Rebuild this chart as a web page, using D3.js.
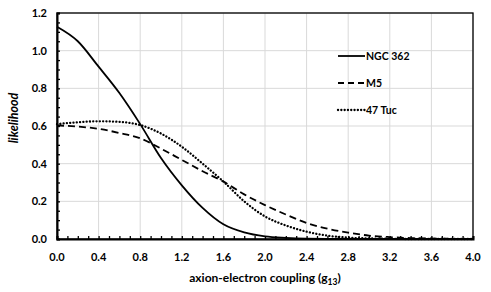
<!DOCTYPE html>
<html>
<head>
<meta charset="utf-8">
<script src="https://cdn.jsdelivr.net/npm/d3@7"></script>
<style>
  body { margin: 0; background: #fff; }
  text { font-family: Lato, "Open Sans", sans-serif; font-weight: bold; fill: #000; }
</style>
</head>
<body>
<div id="chart"></div>
<script>
// coupling values g13 (x) and likelihood curves
const g13 = [0.0, 0.2, 0.4, 0.6, 0.8, 1.0, 1.2, 1.4, 1.6, 1.8, 2.0, 2.2, 2.4, 2.6, 2.8, 3.0, 3.2, 3.4, 3.6, 3.8, 4.0];
const ngc362 = [1.127, 1.05, 0.915, 0.775, 0.61, 0.43, 0.285, 0.165, 0.078, 0.035, 0.014, 0.006, 0.002, 0.001, 0, 0, 0, 0, 0, 0, 0];
const m5 = [0.603, 0.597, 0.585, 0.563, 0.535, 0.48, 0.42, 0.36, 0.305, 0.237, 0.18, 0.13, 0.085, 0.055, 0.034, 0.018, 0.01, 0.005, 0.003, 0.001, 0];
const tuc47 = [0.61, 0.62, 0.625, 0.622, 0.605, 0.56, 0.49, 0.40, 0.305, 0.2, 0.12, 0.072, 0.039, 0.018, 0.007, 0.003, 0.001, 0, 0, 0, 0];

const seriesNames = ["NGC 362", "M5", "47 Tuc"];
const xTicks = [0, 0.4, 0.8, 1.2, 1.6, 2.0, 2.4, 2.8, 3.2, 3.6, 4.0];
const yTicks = [0, 0.2, 0.4, 0.6, 0.8, 1.0, 1.2];

const W = 491, H = 292;
const margin = {top: 13, right: 18, bottom: 53, left: 57},
    width = W - margin.left - margin.right,
    height = H - margin.top - margin.bottom;

const svg = d3.select("#chart").append("svg")
    .attr("width", W).attr("height", H);
const g = svg.append("g")
    .attr("transform", "translate(" + margin.left + "," + margin.top + ")");

const x = d3.scaleLinear().domain([0, 4]).range([0, width]);
const y = d3.scaleLinear().domain([0, 1.2]).range([height, 0]);

// gridlines
g.append("g").selectAll("line").data(xTicks.slice(1))
    .enter().append("line")
    .attr("x1", d => x(d)).attr("x2", d => x(d))
    .attr("y1", 0).attr("y2", height)
    .attr("stroke", "#d9d9d9").attr("stroke-width", 1);
g.append("g").selectAll("line").data(yTicks.slice(1))
    .enter().append("line")
    .attr("x1", 0).attr("x2", width)
    .attr("y1", d => y(d)).attr("y2", d => y(d))
    .attr("stroke", "#d9d9d9").attr("stroke-width", 1);

// plot frame
g.append("rect")
    .attr("width", width).attr("height", height)
    .attr("fill", "none").attr("stroke", "#000").attr("stroke-width", 1.3);

// curves
const series = [
    {name: seriesNames[0], values: ngc362, dash: null, cap: "butt"},
    {name: seriesNames[1], values: m5, dash: "7,4", cap: "butt"},
    {name: seriesNames[2], values: tuc47, dash: "0.1,3.2", cap: "round"}
];
const line = d3.line()
    .x((d, i) => x(g13[i]))
    .y(d => y(d))
    .curve(d3.curveMonotoneX);

g.append("g").selectAll("path").data(series)
    .enter().append("path")
    .attr("d", d => line(d.values))
    .attr("fill", "none")
    .attr("stroke", "#000")
    .attr("stroke-width", d => d.cap === "round" ? 2.3 : 1.8)
    .attr("stroke-linecap", d => d.cap)
    .attr("stroke-dasharray", d => d.dash);

// axes with inward minor ticks
const xAxis = d3.axisBottom(x).ticks(40).tickSize(-3).tickFormat("");
const yAxis = d3.axisLeft(y).ticks(24).tickSize(-3).tickFormat("");
const gx = g.append("g").attr("transform", "translate(0," + height + ")").call(xAxis);
const gy = g.append("g").call(yAxis);
[gx, gy].forEach(a => {
    a.select(".domain").attr("stroke", "#000").attr("stroke-width", 2);
    a.selectAll(".tick line").attr("stroke", "#000").attr("stroke-width", 1.3);
});

// tick labels
g.append("g").selectAll("text").data(xTicks)
    .enter().append("text")
    .attr("x", d => x(d)).attr("y", height + 22)
    .attr("text-anchor", "middle")
    .style("font-size", "11px")
    .text(d => d.toFixed(1));
g.append("g").selectAll("text").data(yTicks)
    .enter().append("text")
    .attr("x", -10).attr("y", d => y(d) + 4)
    .attr("text-anchor", "end")
    .style("font-size", "11px")
    .text(d => d.toFixed(1));

// axis titles
const xt = g.append("text")
    .attr("x", width / 2).attr("y", height + 43)
    .attr("text-anchor", "middle")
    .style("font-size", "12px")
    .text("axion-electron coupling (g");
xt.append("tspan").attr("dy", 3).style("font-size", "8.5px").text("13");
xt.append("tspan").attr("dy", -3).text(")");

g.append("text")
    .attr("transform", "translate(-39," + (height / 2 - 8) + ") rotate(-90)")
    .attr("text-anchor", "middle")
    .style("font-size", "12.5px")
    .style("font-style", "italic")
    .text("likelihood");

// legend
const legend = g.append("g").attr("transform", "translate(281,43)");
const item = legend.selectAll("g").data(series)
    .enter().append("g")
    .attr("transform", (d, i) => "translate(0," + i * 27 + ")");
item.append("line")
    .attr("x1", 0).attr("x2", 27)
    .attr("stroke", "#000")
    .attr("stroke-width", d => d.cap === "round" ? 2.3 : 1.8)
    .attr("stroke-linecap", d => d.cap)
    .attr("stroke-dasharray", d => d.dash ? (d.cap === "round" ? d.dash : "6,4") : null);
item.append("text")
    .attr("x", 28).attr("y", 4)
    .style("font-size", "10.5px")
    .text(d => d.name);
</script>
</body>
</html>
